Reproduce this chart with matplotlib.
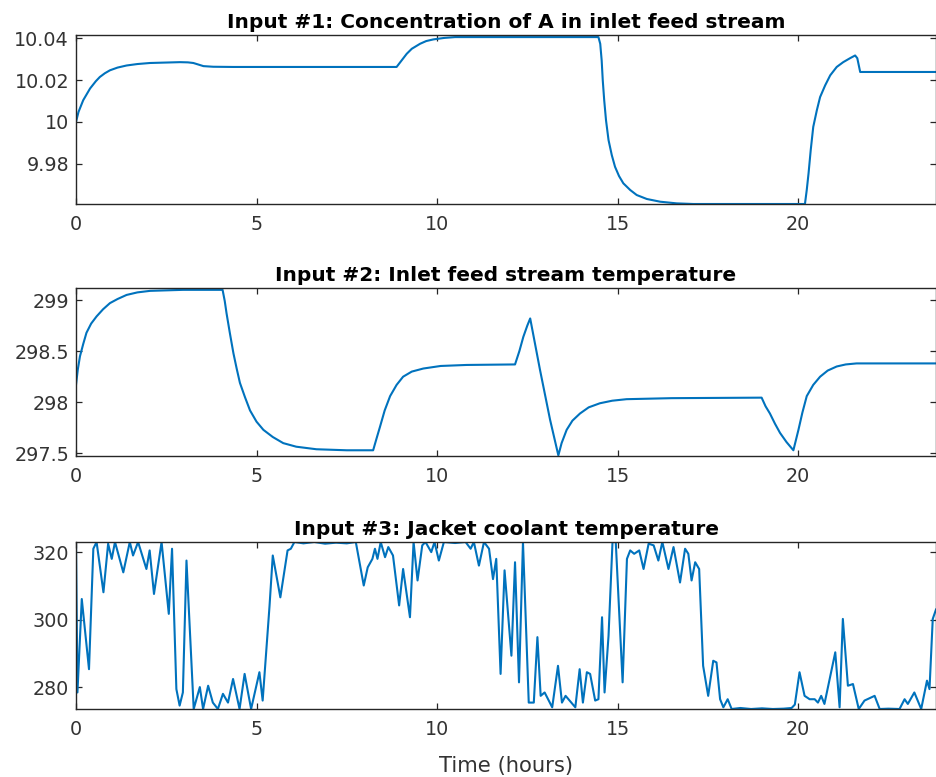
import matplotlib

matplotlib.use("Agg")
import matplotlib.pyplot as plt

# Input #1: concentration of A (time in hours, value)
conc_t = [0.00, 0.07, 0.20, 0.39, 0.55, 0.66, 0.80, 0.94, 1.15, 1.40, 1.70, 2.05,
          2.88, 3.10, 3.25, 3.40, 3.53, 3.80, 4.36, 8.88, 9.00, 9.16, 9.30, 9.53,
          9.70, 9.90, 10.20, 10.50, 14.47, 14.52, 14.56, 14.59, 14.63, 14.68, 14.75,
          14.84, 14.93, 15.04, 15.16, 15.35, 15.53, 15.81, 16.18, 16.64, 17.10,
          20.19, 20.24, 20.29, 20.35, 20.42, 20.52, 20.61, 20.75, 20.89, 21.07,
          21.25, 21.44, 21.58, 21.64, 21.72, 23.82]
conc_v = [10.0000, 10.0048, 10.0104, 10.0160, 10.0195, 10.0215, 10.0233, 10.0247,
          10.0260, 10.0270, 10.0277, 10.0282, 10.0286, 10.0285, 10.0282, 10.0274,
          10.0267, 10.0264, 10.0263, 10.0263, 10.0290, 10.0326, 10.0350, 10.0374,
          10.0387, 10.0395, 10.0402, 10.0406, 10.0406, 10.0374, 10.0294, 10.0199,
          10.0104, 10.0008, 9.9913, 9.9841, 9.9785, 9.9741, 9.9706, 9.9674, 9.9650,
          9.9631, 9.9618, 9.9610, 9.9607, 9.9607, 9.9674, 9.9754, 9.9865, 9.9976,
          10.0056, 10.0119, 10.0175, 10.0223, 10.0263, 10.0286, 10.0305, 10.0318,
          10.0305, 10.0239, 10.0239]

# Input #2: inlet feed stream temperature
temp_t = [0.00, 0.05, 0.11, 0.20, 0.29, 0.42, 0.57, 0.75, 0.94, 1.15, 1.40, 1.70,
          2.05, 2.97, 4.06, 4.12, 4.17, 4.26, 4.36, 4.45, 4.54, 4.68, 4.82, 5.00,
          5.19, 5.45, 5.74, 6.10, 6.66, 7.50, 8.23, 8.32, 8.42, 8.55, 8.70, 8.88,
          9.06, 9.30, 9.62, 10.10, 10.82, 12.16, 12.28, 12.39, 12.50, 12.58, 12.85,
          13.13, 13.36, 13.45, 13.59, 13.75, 13.96, 14.20, 14.51, 14.85, 15.25,
          16.50, 18.99, 19.10, 19.22, 19.36, 19.50, 19.68, 19.87, 20.01, 20.12,
          20.24, 20.42, 20.61, 20.82, 21.07, 21.32, 21.62, 23.82]
temp_v = [298.17, 298.32, 298.45, 298.57, 298.68, 298.77, 298.84, 298.91, 298.97,
          299.01, 299.05, 299.075, 299.09, 299.10, 299.10, 298.99, 298.87, 298.68,
          298.48, 298.33, 298.19, 298.05, 297.92, 297.81, 297.73, 297.66, 297.60,
          297.565, 297.54, 297.53, 297.53, 297.64, 297.76, 297.92, 298.06, 298.17,
          298.25, 298.30, 298.33, 298.355, 298.365, 298.37, 298.50, 298.64, 298.75,
          298.82, 298.32, 297.83, 297.48, 297.60, 297.73, 297.82, 297.89, 297.95,
          297.99, 298.015, 298.03, 298.04, 298.045, 297.96, 297.89, 297.79, 297.70,
          297.61, 297.53, 297.73, 297.90, 298.06, 298.17, 298.25, 298.31, 298.35,
          298.37, 298.38, 298.38]

# Input #3: jacket coolant temperature
coolant_t = [0.00, 0.04, 0.16, 0.36, 0.48, 0.57, 0.76, 0.89, 0.99, 1.08, 1.31, 1.49,
             1.58, 1.72, 1.95, 2.04, 2.16, 2.37, 2.57, 2.66, 2.78, 2.87, 2.96, 3.06,
             3.26, 3.43, 3.52, 3.66, 3.79, 3.93, 4.07, 4.21, 4.35, 4.53, 4.67, 4.85,
             5.08, 5.17, 5.36, 5.45, 5.66, 5.86, 5.95, 6.05, 6.30, 6.60, 6.90, 7.20,
             7.50, 7.75, 7.97, 8.08, 8.21, 8.28, 8.35, 8.44, 8.56, 8.65, 8.78, 8.95,
             9.06, 9.25, 9.35, 9.46, 9.59, 9.68, 9.84, 9.93, 10.05, 10.19, 10.50,
             10.79, 10.93, 11.02, 11.16, 11.30, 11.44, 11.55, 11.64, 11.76, 11.87,
             12.06, 12.16, 12.27, 12.38, 12.54, 12.68, 12.78, 12.87, 12.98, 13.19,
             13.35, 13.46, 13.56, 13.83, 13.95, 14.04, 14.15, 14.24, 14.38, 14.47,
             14.57, 14.64, 14.75, 14.86, 14.95, 15.14, 15.26, 15.35, 15.46, 15.60,
             15.72, 15.86, 16.00, 16.13, 16.24, 16.41, 16.55, 16.73, 16.87, 16.96,
             17.05, 17.15, 17.26, 17.37, 17.51, 17.65, 17.74, 17.84, 17.93, 18.05,
             18.16, 18.40, 18.70, 19.00, 19.30, 19.60, 19.82, 19.91, 20.04, 20.18,
             20.32, 20.46, 20.55, 20.64, 20.73, 21.03, 21.15, 21.24, 21.38, 21.52,
             21.68, 21.84, 22.12, 22.26, 22.50, 22.81, 22.95, 23.04, 23.22, 23.41,
             23.57, 23.64, 23.73, 23.82]
coolant_v = [323.0, 278.4, 306.1, 285.3, 321.0, 323.0, 308.1, 322.5, 318.0, 323.0,
             314.0, 323.0, 319.0, 323.0, 315.0, 320.5, 307.6, 323.0, 301.7, 321.0,
             279.4, 274.5, 278.4, 317.5, 273.5, 280.0, 273.5, 280.4, 275.4, 273.5,
             278.0, 275.4, 282.4, 273.5, 283.9, 273.5, 284.4, 276.0, 304.0, 319.0,
             306.6, 320.5, 321.0, 323.0, 322.6, 323.0, 322.5, 322.8, 322.6, 323.0,
             310.1, 315.5, 318.0, 321.0, 318.0, 323.0, 318.5, 321.5, 319.0, 304.2,
             315.0, 300.7, 323.0, 311.6, 322.0, 323.0, 320.0, 323.0, 317.5, 323.0,
             322.7, 323.0, 321.0, 323.0, 316.0, 323.0, 321.0, 312.0, 318.0, 283.9,
             314.6, 289.3, 317.0, 281.4, 323.0, 275.4, 275.4, 294.8, 277.4, 278.4,
             274.0, 286.3, 275.4, 277.4, 274.0, 285.3, 275.4, 284.4, 283.9, 276.0,
             276.4, 300.7, 278.4, 295.2, 323.0, 323.0, 281.4, 318.0, 320.5, 319.5,
             320.5, 315.0, 322.5, 322.0, 317.5, 323.0, 315.0, 321.5, 311.0, 321.0,
             319.5, 311.6, 317.0, 315.0, 286.3, 277.4, 287.8, 287.3, 276.4, 274.0,
             276.4, 273.5, 273.8, 273.5, 273.7, 273.5, 273.6, 273.8, 274.8, 284.4,
             277.4, 276.4, 276.4, 275.4, 277.4, 275.0, 290.3, 274.0, 300.2, 280.4,
             280.9, 273.5, 276.0, 277.4, 273.5, 273.6, 273.5, 276.4, 275.0, 278.4,
             273.5, 281.9, 279.4, 300.2, 303.0]

titles = [
    "Input #1: Concentration of A in inlet feed stream",
    "Input #2: Inlet feed stream temperature",
    "Input #3: Jacket coolant temperature",
]
x_ticks = [0, 5, 10, 15, 20]
y_ticks = [
    [9.98, 10.0, 10.02, 10.04],
    [297.5, 298.0, 298.5, 299.0],
    [280, 300, 320],
]
y_tick_labels = [
    ["9.98", "10", "10.02", "10.04"],
    ["297.5", "298", "298.5", "299"],
    ["280", "300", "320"],
]
y_limits = [(9.9607, 10.0416), (297.474, 299.118), (273.5, 323.0)]

LINE_COLOR = "#0072BD"
AXIS_COLOR = "#262626"
TEXT_COLOR = "#333333"

fig = plt.figure(figsize=(9.36, 7.77), dpi=100)

# axes boxes in pixels: (top, bottom)
boxes = [(35, 204), (288, 456), (542, 709)]
left_px, right_px = 76, 936

series = [(conc_t, conc_v), (temp_t, temp_v), (coolant_t, coolant_v)]

for idx, (top, bottom) in enumerate(boxes):
    axis = fig.add_axes([
        left_px / 936,
        1 - bottom / 777,
        (right_px - left_px) / 936,
        (bottom - top) / 777,
    ])
    t_vals, y_vals = series[idx]
    axis.plot(t_vals, y_vals, color=LINE_COLOR, linewidth=1.5)

    axis.set_xlim(0, 23.82)
    axis.set_ylim(*y_limits[idx])
    axis.set_xticks(x_ticks)
    axis.set_xticklabels([str(x) for x in x_ticks])
    axis.set_yticks(y_ticks[idx])
    axis.set_yticklabels(y_tick_labels[idx])

    axis.tick_params(direction="in", top=True, right=True, length=4, width=0.9,
                     color=AXIS_COLOR, labelcolor=TEXT_COLOR, labelsize=13.8)
    axis.tick_params(axis="x", pad=8)
    axis.tick_params(axis="y", pad=5)
    for spine in axis.spines.values():
        spine.set_color(AXIS_COLOR)
        spine.set_linewidth(1.0)

    axis.set_title(titles[idx], fontsize=14.5, fontweight="bold", pad=5,
                   color="#000000")

axis.set_xlabel("Time (hours)", fontsize=15.2, color=TEXT_COLOR, labelpad=12)

fig.savefig("out.png", dpi=100)
